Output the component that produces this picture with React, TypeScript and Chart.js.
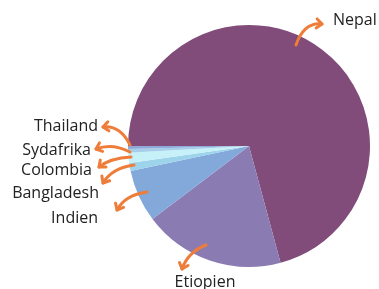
import React, { useEffect, useRef } from "react";
import { Chart, registerables } from "chart.js";

Chart.register(...registerables);

const countries = ["Nepal", "Etiopien", "Indien", "Bangladesh", "Colombia", "Sydafrika", "Thailand"];
const shares = [70.8, 18.9, 7.0, 1.05, 1.35, 0.5, 0.4];
const colors = ["#814b7a", "#8b7bb3", "#83a8da", "#9dd3eb", "#c6f1f8", "#a6cdea", "#8eaad8"];

// Annotation layout (offsets from the pie centre): arrow start, control, end, text anchor
type Callout = { s: [number, number]; c: [number, number]; e: [number, number]; t: [number, number]; align: CanvasTextAlign };
const callouts: Callout[] = [
  { s: [47, -101], c: [55, -124], e: [73, -122], t: [84, -126], align: "left" },
  { s: [-43, 99], c: [-61, 106], e: [-67, 123], t: [-44, 136], align: "center" },
  { s: [-102, 46], c: [-124, 49], e: [-132, 64], t: [-151, 72], align: "right" },
  { s: [-115, 19], c: [-137, 22], e: [-146, 37], t: [-150, 47], align: "right" },
  { s: [-118, 11], c: [-139, 12], e: [-150, 21], t: [-157, 24], align: "right" },
  { s: [-119, 6], c: [-137, -3], e: [-153, 3], t: [-158, 4], align: "right" },
  { s: [-119, -1], c: [-129, -21], e: [-146, -19], t: [-151, -20], align: "right" },
];

const calloutPlugin = {
  id: "callouts",
  afterDraw(chart: any) {
    const ctx: CanvasRenderingContext2D = chart.ctx;
    const meta = chart.getDatasetMeta(0);
    const labels = chart.data.labels as string[];
    meta.data.forEach((arc: any, i: number) => {
      const cfg = callouts[i];
      if (!cfg) return;
      const cx = arc.x;
      const cy = arc.y;
      const sx = cx + cfg.s[0], sy = cy + cfg.s[1];
      const qx = cx + cfg.c[0], qy = cy + cfg.c[1];
      const ex = cx + cfg.e[0], ey = cy + cfg.e[1];
      ctx.save();
      ctx.strokeStyle = "#ef7d3a";
      ctx.lineWidth = 3;
      ctx.lineCap = "round";
      ctx.lineJoin = "round";
      ctx.beginPath();
      ctx.moveTo(sx, sy);
      ctx.quadraticCurveTo(qx, qy, ex, ey);
      ctx.stroke();
      const ang = Math.atan2(ey - qy, ex - qx);
      const len = 7;
      const spread = 0.7;
      ctx.beginPath();
      ctx.moveTo(ex - len * Math.cos(ang - spread), ey - len * Math.sin(ang - spread));
      ctx.lineTo(ex, ey);
      ctx.lineTo(ex - len * Math.cos(ang + spread), ey - len * Math.sin(ang + spread));
      ctx.stroke();
      ctx.fillStyle = "#222222";
      ctx.font = "16px 'Open Sans', sans-serif";
      ctx.textAlign = cfg.align;
      ctx.textBaseline = "middle";
      ctx.fillText(labels[i], cx + cfg.t[0], cy + cfg.t[1]);
      ctx.restore();
    });
  },
};

export default function App() {
  const ref = useRef<HTMLCanvasElement>(null);
  useEffect(() => {
    document.body.style.margin = "0";
    const canvas = ref.current!;
    const chart = new Chart(canvas, {
      type: "pie",
      data: {
        labels: countries,
        datasets: [
          {
            data: shares,
            backgroundColor: colors,
            borderWidth: 0,
          },
        ],
      },
      options: {
        responsive: false,
        animation: false,
        rotation: -90,
        layout: { padding: { left: 128, right: 9, top: 25, bottom: 22 } },
        plugins: {
          legend: { display: false },
          tooltip: { enabled: false },
        },
      },
      plugins: [calloutPlugin],
    });
    return () => chart.destroy();
  }, []);
  return (
    <div style={{ position: "absolute", left: 0, top: 0, width: 379, height: 289, background: "#ffffff" }}>
      <canvas ref={ref} width={379} height={289} />
    </div>
  );
}
